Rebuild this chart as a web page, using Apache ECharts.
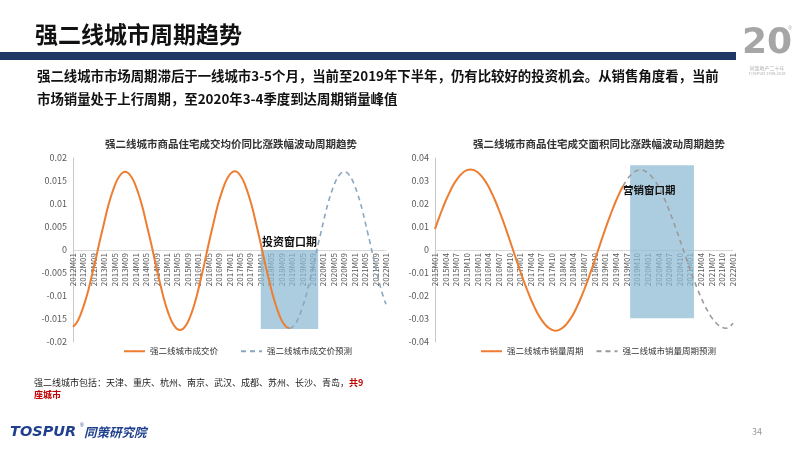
<!DOCTYPE html>
<html>
<head>
<meta charset="utf-8">
<script src="https://cdn.jsdelivr.net/npm/echarts@6/dist/echarts.min.js"></script>
<style>
html,body{margin:0;padding:0;background:#fff;}
#c{width:800px;height:450px;}
</style>
</head>
<body>
<div id="c"></div>
<script>
// ---- categories ----
const leftStartYear = 2012, leftEndYear = 2022;
const rightStartYear = 2015, rightEndYear = 2022;
function monthLabels(y0, y1) {
  const out = [];
  for (let y = y0; y <= y1; y++) {
    for (let m = 1; m <= 12; m++) {
      out.push(y + 'M' + (m < 10 ? '0' + m : '' + m));
      if (y === y1) return out;
    }
  }
  return out;
}
const leftCategories = monthLabels(leftStartYear, leftEndYear);   // 2012M01..2022M01
const rightCategories = monthLabels(rightStartYear, rightEndYear); // 2015M01..2022M01

// ---- left chart: price YoY cycle ----
const priceActual = [ // 2012M01..2018M12
  -0.0167,-0.0161,-0.0152,-0.0139,-0.0123,-0.0105,-0.0085,-0.0061,-0.0037,-0.0013,
  0.0013,0.0037,0.0061,0.0085,0.0106,0.0124,0.0140,0.0153,0.0162,0.0168,
  0.0170,0.0168,0.0162,0.0153,0.0140,0.0124,0.0106,0.0085,0.0061,0.0037,
  0.0013,-0.0013,-0.0039,-0.0063,-0.0087,-0.0109,-0.0128,-0.0144,-0.0157,-0.0166,
  -0.0172,-0.0174,-0.0172,-0.0166,-0.0157,-0.0144,-0.0128,-0.0109,-0.0087,-0.0063,
  -0.0039,-0.0013,0.0013,0.0038,0.0062,0.0086,0.0107,0.0125,0.0141,0.0154,
  0.0163,0.0169,0.0171,0.0169,0.0163,0.0154,0.0141,0.0125,0.0107,0.0086,
  0.0062,0.0038,0.0013,-0.0013,-0.0038,-0.0062,-0.0085,-0.0106,-0.0124,-0.0140,
  -0.0153,-0.0162,-0.0168,-0.0170
];
const priceForecastStart = '2018M12';
const priceForecast = [ // 2018M12..2022M01
  -0.0170,-0.0168,-0.0162,-0.0153,-0.0140,-0.0124,-0.0106,-0.0085,-0.0062,-0.0038,
  -0.0013,0.0013,0.0037,0.0061,0.0085,0.0106,0.0124,0.0140,0.0153,0.0162,
  0.0168,0.0170,0.0168,0.0162,0.0153,0.0140,0.0124,0.0106,0.0085,0.0061,
  0.0037,0.0013,-0.0013,-0.0037,-0.0061,-0.0083,-0.0102,-0.0118
];
const investWindow = ['2018M01', '2019M11'];
const investWindowY = [0, -0.0172];

// ---- right chart: volume YoY cycle ----
const volumeActual = [ // 2015M01..2019M06
  0.0091,0.0134,0.0175,0.0213,0.0247,0.0278,0.0303,0.0323,0.0338,0.0347,
  0.0350,0.0347,0.0338,0.0323,0.0303,0.0278,0.0247,0.0213,0.0175,0.0134,
  0.0091,0.0046,0.0000,-0.0046,-0.0091,-0.0134,-0.0175,-0.0213,-0.0247,-0.0278,
  -0.0303,-0.0323,-0.0338,-0.0347,-0.0351,-0.0347,-0.0338,-0.0323,-0.0303,-0.0278,
  -0.0247,-0.0213,-0.0175,-0.0134,-0.0091,-0.0046,0.0000,0.0046,0.0091,0.0134,
  0.0175,0.0213,0.0247,0.0278
];
const volumeForecastStart = '2019M06';
const volumeForecast = [ // 2019M06..2022M01
  0.0278,0.0303,0.0323,0.0338,0.0346,0.0348,0.0345,0.0336,0.0321,0.0301,
  0.0276,0.0245,0.0211,0.0173,0.0132,0.0090,0.0045,0.0000,-0.0045,-0.0089,
  -0.0131,-0.0170,-0.0207,-0.0240,-0.0269,-0.0294,-0.0313,-0.0328,-0.0337,-0.0340,
  -0.0334,-0.0318
];
const marketWindow = ['2019M08', '2021M02'];
const marketWindowY = [0.0368, -0.0297];

const leftYTicks = {min: -0.02, max: 0.02, interval: 0.005};
const rightYTicks = {min: -0.04, max: 0.04, interval: 0.01};

// ---- helpers to place series on the category axis ----
function padActual(vals, n) { return vals.concat(new Array(n - vals.length).fill(null)); }
function padForecast(vals, cats, start) {
  const i = cats.indexOf(start);
  return new Array(i).fill(null).concat(vals);
}

const FONT = '"Noto Sans CJK SC","Noto Sans",sans-serif';
const ORANGE = '#ed7d31';
const GRID_TOP = 158, GRID_BOTTOM = 108;
const GRID_H = 450 - GRID_TOP - GRID_BOTTOM;

function xAxisCfg(gi, cats, interval) {
  return {
    gridIndex: gi, type: 'category', data: cats, boundaryGap: false,
    position: 'bottom', offset: -GRID_H / 2,   // axis sits on the zero line (middle of symmetric range)
    axisLine: {onZero: false, lineStyle: {color: '#d9d9d9', width: 1}},
    axisTick: {show: false},
    axisLabel: {interval: interval, rotate: 90, fontSize: 8, color: '#595959', margin: 3, fontFamily: FONT},
    splitLine: {show: false}
  };
}
function yAxisCfg(gi, t) {
  return {
    gridIndex: gi, type: 'value', min: t.min, max: t.max, interval: t.interval,
    axisLine: {show: true, lineStyle: {color: '#c8c8c8'}},
    axisTick: {show: false},
    splitLine: {show: false},
    axisLabel: {fontSize: 9, color: '#595959', margin: 6, fontFamily: FONT,
      formatter: v => String(+v.toFixed(3))}
  };
}

const chart = echarts.init(document.getElementById('c'), null, {renderer: 'canvas'});
chart.setOption({
  backgroundColor: '#ffffff',
  animation: false,
  textStyle: {fontFamily: FONT},
  title: [
    {text: '强二线城市商品住宅成交均价同比涨跌幅波动周期趋势', left: 226, top: 134, textAlign: 'center',
      textStyle: {fontSize: 10.5, fontWeight: 'bold', color: '#333', fontFamily: FONT}},
    {text: '强二线城市商品住宅成交面积同比涨跌幅波动周期趋势', left: 594, top: 134, textAlign: 'center',
      textStyle: {fontSize: 10.5, fontWeight: 'bold', color: '#333', fontFamily: FONT}}
  ],
  legend: [
    {left: 123, top: 347, padding: 0, itemWidth: 21, itemHeight: 2, itemGap: 22,
      data: ['强二线城市成交价', '强二线城市成交价预测'],
      textStyle: {fontSize: 8.5, color: '#333', fontFamily: FONT}},
    {left: 480, top: 347, padding: 0, itemWidth: 21, itemHeight: 2, itemGap: 12,
      data: ['强二线城市销量周期', '强二线城市销量周期预测'],
      textStyle: {fontSize: 8.5, color: '#333', fontFamily: FONT}}
  ],
  grid: [
    {left: 73, right: 414, top: GRID_TOP, bottom: GRID_BOTTOM},
    {left: 435, right: 67, top: GRID_TOP, bottom: GRID_BOTTOM}
  ],
  xAxis: [xAxisCfg(0, leftCategories, 3), xAxisCfg(1, rightCategories, 2)],
  yAxis: [yAxisCfg(0, leftYTicks), yAxisCfg(1, rightYTicks)],
  series: [
    {name: '强二线城市成交价', type: 'line', xAxisIndex: 0, yAxisIndex: 0, symbol: 'none', smooth: true,
      data: padActual(priceActual, leftCategories.length),
      lineStyle: {color: ORANGE, width: 2}, itemStyle: {color: ORANGE}, z: 3,
      markArea: {silent: true, itemStyle: {color: 'rgba(140,186,210,0.72)'},
        label: {show: true, position: 'top', distance: 3, color: '#111', fontWeight: 'bold', fontSize: 11, fontFamily: FONT},
        data: [[{name: '投资窗口期', xAxis: investWindow[0], yAxis: investWindowY[0]},
                {xAxis: investWindow[1], yAxis: investWindowY[1]}]]}},
    {name: '强二线城市成交价预测', type: 'line', xAxisIndex: 0, yAxisIndex: 0, symbol: 'none', smooth: true,
      data: padForecast(priceForecast, leftCategories, priceForecastStart),
      lineStyle: {color: '#8aa6c0', width: 1.6, type: [5, 4]}, itemStyle: {color: '#8aa6c0'}, z: 3},
    {name: '强二线城市销量周期', type: 'line', xAxisIndex: 1, yAxisIndex: 1, symbol: 'none', smooth: true,
      data: padActual(volumeActual, rightCategories.length),
      lineStyle: {color: ORANGE, width: 2}, itemStyle: {color: ORANGE}, z: 3,
      markArea: {silent: true, itemStyle: {color: 'rgba(140,186,210,0.72)'},
        label: {show: true, position: [-7, 25], align: 'left', verticalAlign: 'middle',
          color: '#111', fontWeight: 'bold', fontSize: 10.5, fontFamily: FONT},
        data: [[{name: '营销窗口期', xAxis: marketWindow[0], yAxis: marketWindowY[0]},
                {xAxis: marketWindow[1], yAxis: marketWindowY[1]}]]}},
    {name: '强二线城市销量周期预测', type: 'line', xAxisIndex: 1, yAxisIndex: 1, symbol: 'none', smooth: true,
      data: padForecast(volumeForecast, rightCategories, volumeForecastStart),
      lineStyle: {color: '#9a9a9a', width: 1.6, type: [5, 4]}, itemStyle: {color: '#9a9a9a'}, z: 3}
  ],
  graphic: [
    {type: 'text', x: 35, y: 34, style: {text: '强二线城市周期趋势', font: 'bold 23px ' + FONT, fill: '#111', align: 'left', verticalAlign: 'middle'}},
    {type: 'rect', shape: {x: 0, y: 52, width: 736, height: 8}, style: {fill: '#1f3864'}},
    {type: 'text', x: 37, y: 76, style: {text: '强二线城市市场周期滞后于一线城市3-5个月，当前至2019年下半年，仍有比较好的投资机会。从销售角度看，当前', font: 'bold 13.4px ' + FONT, fill: '#111', align: 'left', verticalAlign: 'middle'}},
    {type: 'text', x: 37, y: 99, style: {text: '市场销量处于上行周期，至2020年3-4季度到达周期销量峰值', font: 'bold 13.4px ' + FONT, fill: '#111', align: 'left', verticalAlign: 'middle'}},
    // logo
    {type: 'text', x: 767, y: 44, style: {text: '20', font: 'bold 36px "DejaVu Sans",sans-serif', fill: '#a6a6a6', align: 'center', verticalAlign: 'middle'}},
    {type: 'text', x: 790, y: 29, style: {text: '®', font: '5px sans-serif', fill: '#aaa', align: 'center', verticalAlign: 'middle'}},
    {type: 'text', x: 767, y: 68, style: {text: '同策地产二十年', font: '5px ' + FONT, fill: '#b0b0b0', align: 'center', verticalAlign: 'middle'}},
    {type: 'text', x: 767, y: 74, style: {text: 'TOSPUR 1998-2018', font: '4px sans-serif', fill: '#b0b0b0', align: 'center', verticalAlign: 'middle'}},
    // note
    {type: 'text', x: 34, y: 383, style: {
      text: '强二线城市包括：天津、重庆、杭州、南京、武汉、成都、苏州、长沙、青岛，{r|共9}',
      font: '9px ' + FONT, fill: '#222', align: 'left', verticalAlign: 'middle',
      rich: {r: {fill: '#c00000', fontWeight: 'bold', fontSize: 9, fontFamily: FONT}}}},
    {type: 'text', x: 34, y: 395, style: {text: '座城市', font: 'bold 9px ' + FONT, fill: '#c00000', align: 'left', verticalAlign: 'middle'}},
    // footer
    {type: 'text', x: 10, y: 432, style: {text: 'TOSPUR', font: 'italic bold 14.5px "DejaVu Sans",sans-serif', fill: '#1f3f8f', align: 'left', verticalAlign: 'middle'}},
    {type: 'text', x: 80, y: 426, style: {text: '®', font: '5px sans-serif', fill: '#1f3f8f', align: 'left', verticalAlign: 'middle'}},
    {type: 'text', x: 84, y: 432, style: {text: '同策研究院', font: 'italic bold 12.5px ' + FONT, fill: '#1f3f8f', align: 'left', verticalAlign: 'middle'}},
    {type: 'text', x: 757, y: 432, style: {text: '34', font: '9px ' + FONT, fill: '#999', align: 'center', verticalAlign: 'middle'}}
  ]
});
</script>
</body>
</html>
